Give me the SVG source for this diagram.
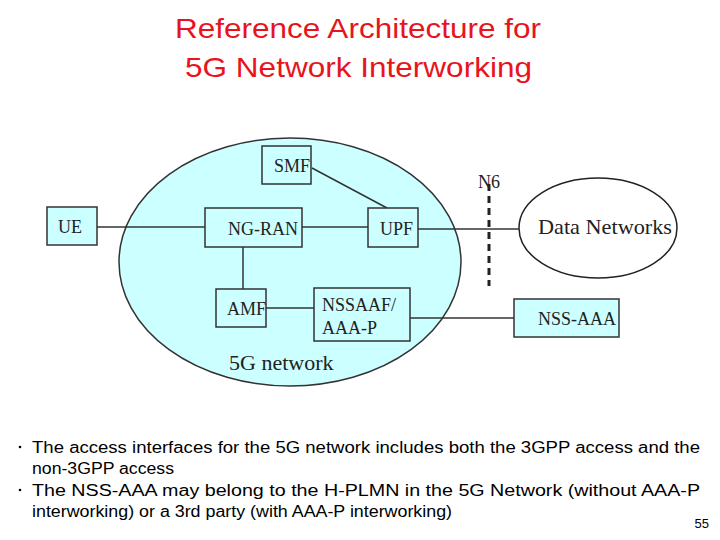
<svg xmlns="http://www.w3.org/2000/svg" width="720" height="540" viewBox="0 0 720 540">
<style>
.box{fill:#ccffff;stroke:#333;stroke-width:1.5}
.lbl{font-family:"Liberation Serif",serif;font-size:18px;fill:#222}
.ln{stroke:#333;stroke-width:1.5;fill:none}
.title{font-family:"Liberation Sans",Arial,sans-serif;font-size:28px;fill:#e8141c}
.body{font-family:"Liberation Sans",Arial,sans-serif;font-size:16px;fill:#000}
</style>
<rect width="720" height="540" fill="#fff"/>
<text class="title" x="175" y="38" textLength="366" lengthAdjust="spacingAndGlyphs">Reference Architecture for</text>
<text class="title" x="185" y="77" textLength="347" lengthAdjust="spacingAndGlyphs">5G Network Interworking</text>
<g id="net5g">
<ellipse cx="290" cy="262" rx="171" ry="124" fill="#ccffff" stroke="#333" stroke-width="1.5"/>
<text class="lbl" x="229" y="370" style="font-size:22px">5G network</text>
</g>
<g id="datanet">
<ellipse cx="598" cy="228" rx="79" ry="50" fill="#fff" stroke="#222" stroke-width="1.5"/>
<text class="lbl" x="538" y="234" style="font-size:21px" textLength="134" lengthAdjust="spacingAndGlyphs">Data Networks</text>
</g>
<g id="connectors">
<line class="ln" x1="97" y1="227" x2="205" y2="227" stroke-width="2.5"/>
<line class="ln" x1="302" y1="227" x2="368" y2="227" stroke-width="2"/>
<line class="ln" x1="418" y1="229" x2="519" y2="229"/>
<line class="ln" x1="312" y1="168" x2="387" y2="208"/>
<line class="ln" x1="243" y1="247" x2="243" y2="289"/>
<line class="ln" x1="266" y1="308" x2="314" y2="308"/>
<line class="ln" x1="410" y1="318" x2="514" y2="318"/>
<line x1="489" y1="184" x2="489" y2="286" stroke="#222" stroke-width="3" stroke-dasharray="7,5"/>
<text class="lbl" x="489" y="188" text-anchor="middle" style="font-size:18px">N6</text>
</g>
<g id="ue"><rect class="box" x="47" y="207" width="50" height="38"/><text class="lbl" x="58" y="233">UE</text></g>
<g id="smf"><rect class="box" x="262" y="146" width="49" height="38"/><text class="lbl" x="274" y="172">SMF</text></g>
<g id="ngran"><rect class="box" x="205" y="208" width="97" height="39"/><text class="lbl" x="228" y="235">NG-RAN</text></g>
<g id="upf"><rect class="box" x="368" y="208" width="50" height="39"/><text class="lbl" x="380" y="235">UPF</text></g>
<g id="amf"><rect class="box" x="216" y="289" width="50" height="38"/><text class="lbl" x="227" y="315">AMF</text></g>
<g id="nssaaf"><rect class="box" x="314" y="288" width="96" height="53"/><text class="lbl" x="322" y="311">NSSAAF/</text><text class="lbl" x="322" y="334">AAA-P</text></g>
<g id="nssaaa"><rect class="box" x="514" y="299" width="105" height="38"/><text class="lbl" x="538" y="325">NSS-AAA</text></g>
<g id="notes">
<circle cx="20" cy="447" r="1.3" fill="#000"/>
<text class="body" x="32" y="453" textLength="668" lengthAdjust="spacingAndGlyphs">The access interfaces for the 5G network includes both the 3GPP access and the</text>
<text class="body" x="32" y="474" textLength="142" lengthAdjust="spacingAndGlyphs">non-3GPP access</text>
<circle cx="20" cy="490" r="1.3" fill="#000"/>
<text class="body" x="32" y="496" textLength="668" lengthAdjust="spacingAndGlyphs">The NSS-AAA may belong to the H-PLMN in the 5G Network (without AAA-P</text>
<text class="body" x="32" y="517" textLength="420" lengthAdjust="spacingAndGlyphs">interworking) or a 3rd party (with AAA-P interworking)</text>
<text class="body" x="709" y="528" text-anchor="end" style="font-size:13px">55</text>
</g>
</svg>
